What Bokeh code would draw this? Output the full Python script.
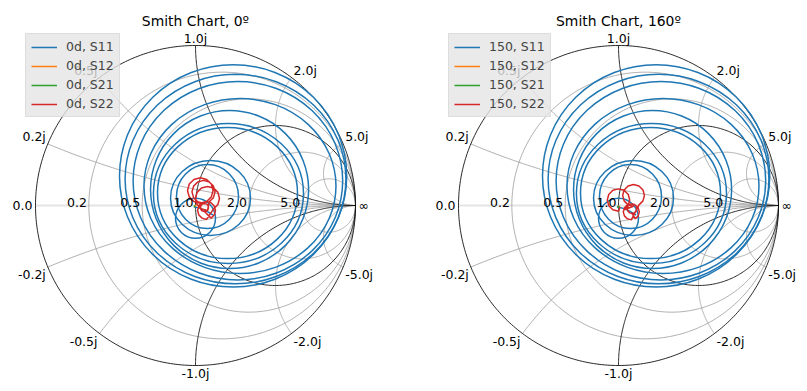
import numpy as np
from bokeh.plotting import figure
from bokeh.layouts import row
from bokeh.models import Range1d, Legend, LegendItem
from bokeh.embed import file_html
from bokeh.resources import INLINE
from bokeh.core.properties import value

# ---------------- chart values ----------------
titles = ["Smith Chart, 0º", "Smith Chart, 160º"]
series_prefix = ["0d", "150"]
param_names = ["S11", "S12", "S21", "S22"]
param_colors = ["#1f77b4", "#ff7f0e", "#2ca02c", "#d62728"]

r_ticks = [0.2, 0.5, 1.0, 2.0, 5.0]   # resistance grid / labels
x_ticks = [0.2, 0.5, 1.0, 2.0, 5.0]   # reactance grid / labels (+/-)

# S11: start of the trace near the centre, then its loops (centre re/im, half-width, half-height)
s11_start_re = [-0.01, 0.03, 0.07, 0.11]
s11_start_im = [-0.008, -0.018, -0.035, -0.06]
s11_loop_re = [0.0, 0.075, 0.094, 0.200, 0.206, 0.213, 0.278, 0.265, 0.250, 0.235]
s11_loop_im = [-0.080, 0.056, 0.047, 0.078, 0.075, 0.100, 0.122, 0.155, 0.165, 0.185]
s11_loop_a = [0.125, 0.194, 0.250, 0.4375, 0.469, 0.494, 0.600, 0.655, 0.690, 0.710]
s11_loop_b = [0.125, 0.200, 0.234, 0.410, 0.4375, 0.494, 0.547, 0.620, 0.655, 0.695]

# S12 / S21 stay close to the centre
s12_0_re = [0.002, 0.004, 0.0, -0.003, 0.002]
s12_0_im = [0.001, -0.002, -0.003, 0.0, 0.001]
s21_0_re = [-0.01, -0.006, -0.004, -0.008, -0.01]
s21_0_im = [-0.005, -0.008, -0.004, -0.003, -0.005]
s12_160_re = [0.003, 0.005, 0.001, -0.002, 0.003]
s12_160_im = [-0.002, -0.005, -0.007, -0.004, -0.002]
s21_160_re = [0.0, 0.004, 0.0, -0.004, 0.0]
s21_160_im = [-0.01, -0.006, -0.003, -0.007, -0.01]

# S22, 0 deg
s22_0_re = [0.02,
            0.03, -0.01, -0.039, -0.05, -0.039, -0.01, 0.03, 0.07, 0.099, 0.11, 0.099, 0.07,
            0.05, 0.014, -0.012, -0.022, -0.012, 0.014, 0.05, 0.086, 0.112, 0.122, 0.112, 0.086,
            0.075, 0.037, 0.01, 0.0, 0.01, 0.037, 0.075, 0.113, 0.14, 0.15, 0.14, 0.113,
            0.069, 0.041, 0.021, 0.013, 0.021, 0.041, 0.069, 0.097, 0.117, 0.125, 0.117, 0.097,
            0.056, 0.044, 0.034, 0.031, 0.034, 0.044, 0.056, 0.069, 0.078, 0.081, 0.078, 0.069, 0.056]
s22_0_im = [-0.005,
            0.014, 0.025, 0.054, 0.094, 0.134, 0.163, 0.174, 0.163, 0.134, 0.094, 0.054, 0.025,
            0.013, 0.023, 0.049, 0.085, 0.121, 0.147, 0.157, 0.147, 0.121, 0.085, 0.049, 0.023,
            -0.031, -0.021, 0.006, 0.044, 0.082, 0.109, 0.119, 0.109, 0.082, 0.044, 0.006, -0.021,
            -0.087, -0.079, -0.059, -0.031, -0.003, 0.017, 0.025, 0.017, -0.003, -0.031, -0.059, -0.079,
            -0.038, -0.035, -0.026, -0.013, 0.0, 0.009, 0.012, 0.009, 0.0, -0.013, -0.026, -0.035, -0.038]

# S22, 160 deg
s22_160_re = [0.01,
              0.0, -0.035, -0.061, -0.07, -0.061, -0.035, 0.0, 0.035, 0.061, 0.07, 0.061, 0.035,
              0.094, 0.06, 0.035, 0.026, 0.035, 0.06, 0.094, 0.128, 0.153, 0.162, 0.153, 0.128,
              0.08, 0.055, 0.037, 0.03, 0.037, 0.055, 0.08, 0.105, 0.123, 0.13, 0.123, 0.105,
              0.085, 0.07, 0.059, 0.055, 0.059, 0.07, 0.085, 0.1, 0.111, 0.115, 0.111, 0.1, 0.085]
s22_160_im = [-0.01,
              -0.036, -0.027, -0.001, 0.034, 0.069, 0.095, 0.104, 0.095, 0.069, 0.034, -0.001, -0.027,
              -0.005, 0.004, 0.029, 0.063, 0.097, 0.122, 0.131, 0.122, 0.097, 0.063, 0.029, 0.004,
              -0.09, -0.083, -0.065, -0.04, -0.015, 0.003, 0.01, 0.003, -0.015, -0.04, -0.065, -0.083,
              -0.05, -0.046, -0.035, -0.02, -0.005, 0.006, 0.01, 0.006, -0.005, -0.02, -0.035, -0.046, -0.05]

charts = [
    dict(title=titles[0], prefix=series_prefix[0],
         traces=[(s12_0_re, s12_0_im), (s21_0_re, s21_0_im), (s22_0_re, s22_0_im)]),
    dict(title=titles[1], prefix=series_prefix[1],
         traces=[(s12_160_re, s12_160_im), (s21_160_re, s21_160_im), (s22_160_re, s22_160_im)]),
]

# ---------------- styling ----------------
FONT = value("DejaVu Sans")
GRAY = "#9c9c9c"
BLACK = "#111111"
SCALE = 160.0     # pixels per unit of reflection coefficient
HEIGHT = 391
CY = 205          # chart centre from top of figure (px)


def add_text(p, x, y, t, align, baseline, xo=0, yo=0, size="12.5px"):
    p.text(x=[x], y=[y], text=[t], text_align=align, text_baseline=baseline,
           x_offset=xo, y_offset=yo, text_font=FONT, text_font_size=size,
           text_color="black")


def draw_grid(p):
    p.line([-1, 1], [0, 0], line_color="#e4e4e4", line_width=2)   # real axis
    phi = np.linspace(0, 2 * np.pi, 361)
    t = np.concatenate([np.linspace(0, 1, 120), np.logspace(0, 4.5, 300)[1:]])
    light_x, light_y, heavy_x, heavy_y = [], [], [], []
    for r in [0.0] + r_ticks:
        c, rad = r / (1 + r), 1 / (1 + r)
        xs = list(c + rad * np.cos(phi))
        ys = list(rad * np.sin(phi))
        if r in (0.0, 1.0):
            heavy_x.append(xs); heavy_y.append(ys)
        else:
            light_x.append(xs); light_y.append(ys)
    for xv in x_ticks:
        for sgn in (1, -1):
            z = t + 1j * sgn * xv
            g = (z - 1) / (z + 1)
            if xv == 1.0:
                heavy_x.append(list(g.real)); heavy_y.append(list(g.imag))
            else:
                light_x.append(list(g.real)); light_y.append(list(g.imag))
    p.multi_line(light_x, light_y, line_color=GRAY, line_width=0.8)
    p.multi_line(heavy_x, heavy_y, line_color=BLACK, line_width=0.9)


def draw_labels(p):
    add_text(p, -1.0, 0.0, "0.0", "right", "middle", xo=-3)
    add_text(p, 1.0, 0.0, "∞", "left", "middle", xo=3)
    for r in r_ticks:
        add_text(p, (r - 1) / (r + 1), 0.0, f"{r:.1f}", "right", "bottom", xo=-2, yo=1)
    for xv in x_ticks:
        for sgn in (1, -1):
            g = (1j * sgn * xv - 1) / (1j * sgn * xv + 1)
            if abs(g.real) < 0.05:
                align, xo = "center", 0
            elif g.real > 0:
                align, xo = "left", 2
            else:
                align, xo = "right", -2
            base = "bottom" if sgn > 0 else "top"
            add_text(p, g.real, g.imag, f"{sgn * xv:.1f}j", align, base, xo=xo)


def make_chart(spec, width, cx, legend_x):
    p = figure(width=width, height=HEIGHT,
               x_range=Range1d(-cx / SCALE, (width - cx) / SCALE),
               y_range=Range1d(-(HEIGHT - CY) / SCALE, CY / SCALE),
               output_backend="svg", toolbar_location=None,
               x_axis_type=None, y_axis_type=None, min_border=0,
               outline_line_color=None)
    p.min_border_left = p.min_border_right = p.min_border_top = p.min_border_bottom = 0
    draw_grid(p)
    # S11
    s11_line = p.line(s11_start_re, s11_start_im, line_color=param_colors[0], line_width=1.5)
    p.ellipse(x=s11_loop_re, y=s11_loop_im,
              width=[2 * a for a in s11_loop_a], height=[2 * b for b in s11_loop_b],
              fill_color=None, line_color=param_colors[0], line_width=1.5)
    items = [LegendItem(label=f"{spec['prefix']}, {param_names[0]}", renderers=[s11_line])]
    for (re, im), name, col in zip(spec["traces"], param_names[1:], param_colors[1:]):
        rend = p.line(re, im, line_color=col, line_width=1.5)
        items.append(LegendItem(label=f"{spec['prefix']}, {name}", renderers=[rend]))
    draw_labels(p)
    add_text(p, 0.0, 1.152, spec["title"], "center", "alphabetic", size="13.9px")
    legend = Legend(items=items, location=(legend_x, 274),
                    background_fill_color="#e5e5e5", background_fill_alpha=0.8,
                    border_line_color="#d0d0d0", border_line_width=1,
                    label_text_font="DejaVu Sans", label_text_font_size="12.5px",
                    glyph_width=26, glyph_height=14, label_height=14,
                    label_standoff=9, spacing=4, padding=5, margin=0)
    p.add_layout(legend)
    return p


p1 = make_chart(charts[0], 408, 195, 25)
p2 = make_chart(charts[1], 399, 210, 40)
layout = row(p1, p2)

open("out.html", "w").write(file_html(layout, INLINE))
